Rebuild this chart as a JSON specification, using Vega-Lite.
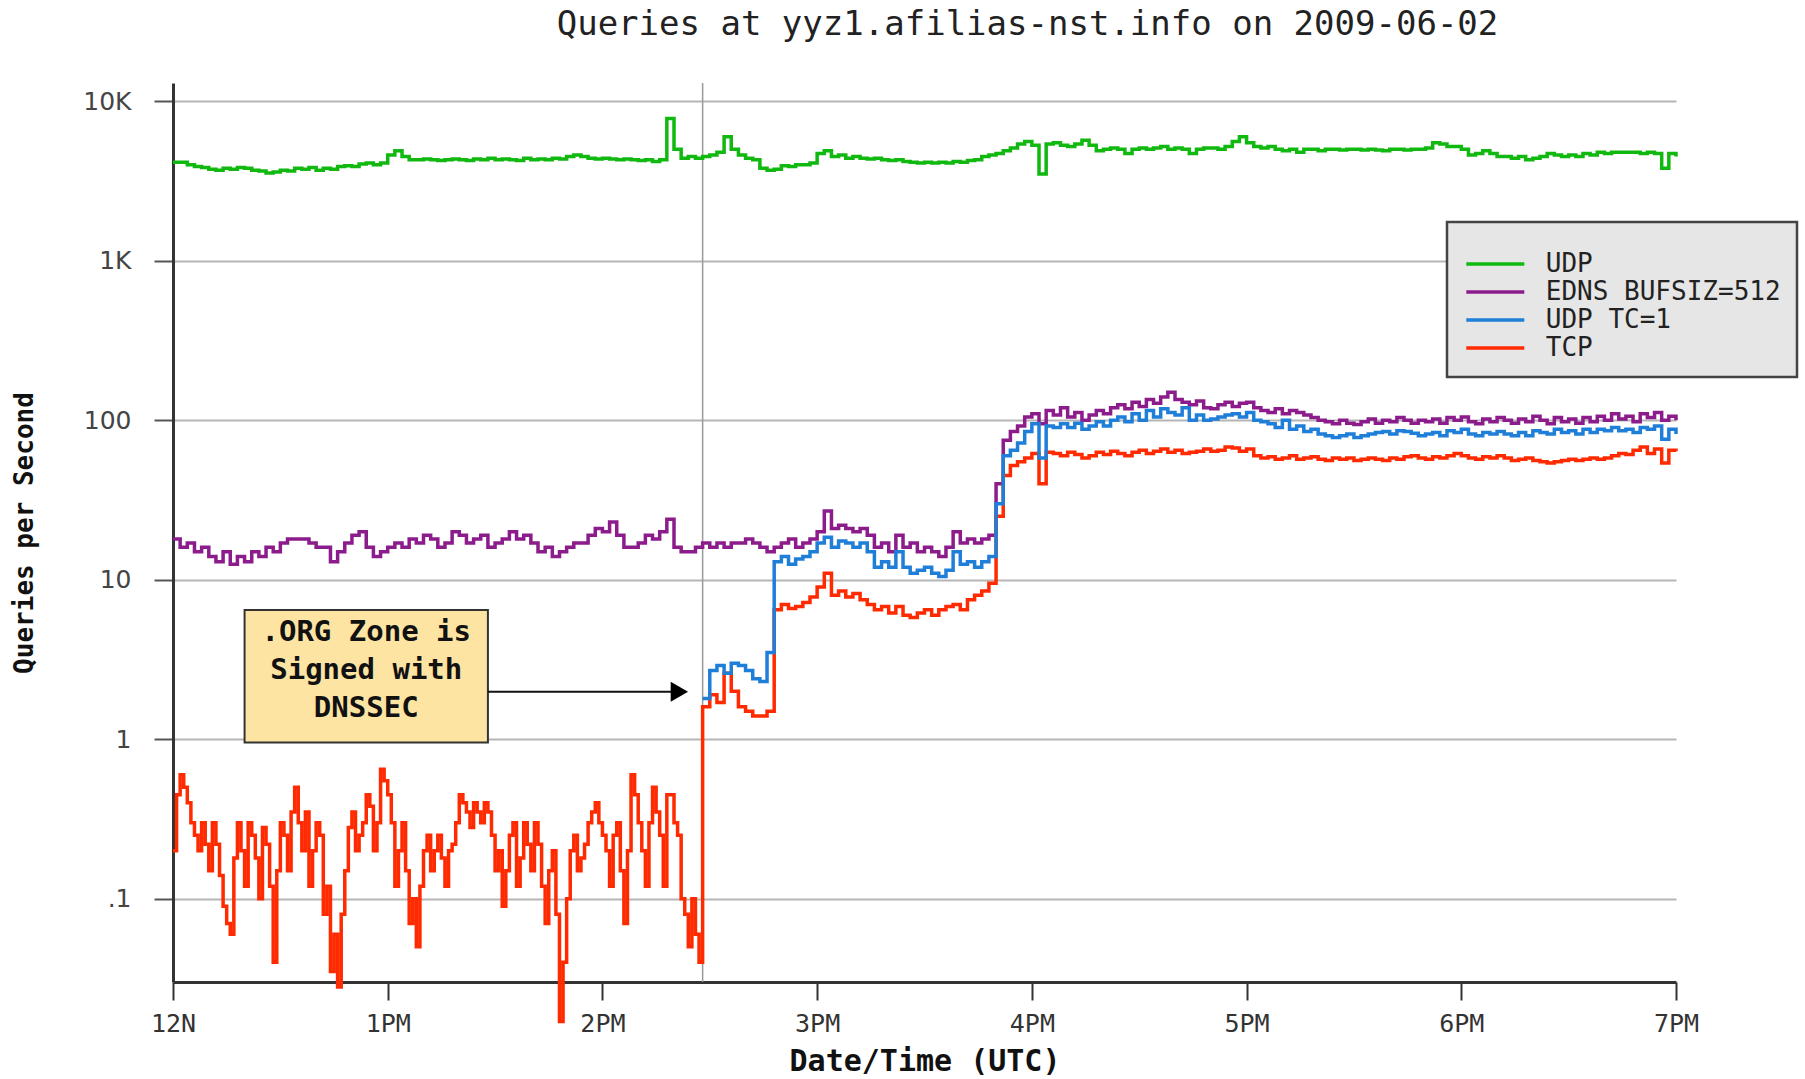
{
"$schema":"https://vega.github.io/schema/vega-lite/v6.json",
"width":1503,"height":899,
"autosize":{"type":"none"},
"padding":{"left":173,"top":83,"right":129,"bottom":97},
"background":"white",
"title":{"text":"Queries at yyz1.afilias-nst.info on 2009-06-02","font":"DejaVu Sans Mono","fontSize":34,"fontWeight":"normal","color":"#222","anchor":"middle","dx":103,"offset":40},
"config":{"view":{"stroke":null},"legend":{"strokeWidth":2.5}},
"layer":[
{"data":{"values":[{"t":"14:28"}],"format":{"parse":{"t":"utc:'%H:%M'"}}},
 "mark":{"type":"rule","color":"#999999","strokeWidth":1.5},
 "encoding":{"x":{"field":"t","type":"temporal","scale":{"type":"utc","domain":[{"year":1900,"month":1,"date":1,"hours":12,"utc":true},{"year":1900,"month":1,"date":1,"hours":19,"utc":true}]}}}},
{"data":{"format":{"parse":{"t":"utc:'%H:%M'"}},"values":[
{"t":"12:00","u":4150,"e":18,"p":0.2},{"t":"12:02","u":4150,"e":16,"p":0.6},{"t":"12:04","u":4000,"e":17,"p":0.4},{"t":"12:06","u":3900,"e":15,"p":0.25},{"t":"12:08","u":3850,"e":16,"p":0.3},{"t":"12:10","u":3750,"e":14,"p":0.15},{"t":"12:12","u":3700,"e":13,"p":0.22},{"t":"12:14","u":3800,"e":15,"p":0.09},{"t":"12:16","u":3750,"e":12.5,"p":0.06},{"t":"12:18","u":3850,"e":14,"p":0.3},
{"t":"12:20","u":3800,"e":13,"p":0.12},{"t":"12:22","u":3700,"e":15,"p":0.25},{"t":"12:24","u":3650,"e":14,"p":0.1},{"t":"12:26","u":3550,"e":16,"p":0.22},{"t":"12:28","u":3600,"e":15,"p":0.04},{"t":"12:30","u":3700,"e":17,"p":0.3},{"t":"12:32","u":3650,"e":18,"p":0.15},{"t":"12:34","u":3800,"e":18,"p":0.5},{"t":"12:36","u":3750,"e":18,"p":0.2},{"t":"12:38","u":3850,"e":17,"p":0.12},
{"t":"12:40","u":3700,"e":16,"p":0.3},{"t":"12:42","u":3800,"e":16,"p":0.08},{"t":"12:44","u":3750,"e":13,"p":0.035},{"t":"12:46","u":3900,"e":15,"p":0.028},{"t":"12:48","u":3950,"e":17,"p":0.15},{"t":"12:50","u":3900,"e":19,"p":0.35},{"t":"12:52","u":4050,"e":20,"p":0.25},{"t":"12:54","u":4100,"e":16,"p":0.45},{"t":"12:56","u":4000,"e":14,"p":0.2},{"t":"12:58","u":4100,"e":15,"p":0.65},
{"t":"13:00","u":4600,"e":16,"p":0.45},{"t":"13:02","u":4900,"e":17,"p":0.12},{"t":"13:04","u":4500,"e":16,"p":0.3},{"t":"13:06","u":4300,"e":18,"p":0.07},{"t":"13:08","u":4300,"e":17,"p":0.05},{"t":"13:10","u":4350,"e":19,"p":0.2},{"t":"13:12","u":4300,"e":18,"p":0.15},{"t":"13:14","u":4250,"e":16,"p":0.25},{"t":"13:16","u":4300,"e":17,"p":0.12},{"t":"13:18","u":4350,"e":20,"p":0.22},
{"t":"13:20","u":4300,"e":19,"p":0.45},{"t":"13:22","u":4250,"e":17,"p":0.35},{"t":"13:24","u":4350,"e":18,"p":0.4},{"t":"13:26","u":4300,"e":19,"p":0.3},{"t":"13:28","u":4400,"e":16,"p":0.35},{"t":"13:30","u":4300,"e":17,"p":0.15},{"t":"13:32","u":4350,"e":18,"p":0.09},{"t":"13:34","u":4300,"e":20,"p":0.25},{"t":"13:36","u":4250,"e":18,"p":0.12},{"t":"13:38","u":4400,"e":19,"p":0.3},
{"t":"13:40","u":4300,"e":17,"p":0.15},{"t":"13:42","u":4350,"e":15,"p":0.22},{"t":"13:44","u":4300,"e":16,"p":0.07},{"t":"13:46","u":4400,"e":14,"p":0.2},{"t":"13:48","u":4350,"e":15,"p":0.017},{"t":"13:50","u":4500,"e":16,"p":0.1},{"t":"13:52","u":4600,"e":17,"p":0.25},{"t":"13:54","u":4500,"e":17,"p":0.18},{"t":"13:56","u":4400,"e":19,"p":0.3},{"t":"13:58","u":4350,"e":21,"p":0.4},
{"t":"14:00","u":4400,"e":20,"p":0.25},{"t":"14:02","u":4350,"e":23,"p":0.12},{"t":"14:04","u":4300,"e":19,"p":0.3},{"t":"14:06","u":4350,"e":16,"p":0.07},{"t":"14:08","u":4300,"e":16,"p":0.6},{"t":"14:10","u":4250,"e":17,"p":0.3},{"t":"14:12","u":4300,"e":19,"p":0.12},{"t":"14:14","u":4200,"e":18,"p":0.5},{"t":"14:16","u":4300,"e":20,"p":0.25},{"t":"14:18","u":7800,"e":24,"p":0.45},
{"t":"14:20","u":5000,"e":16,"p":0.3},{"t":"14:22","u":4400,"e":15,"p":0.1},{"t":"14:24","u":4500,"e":15,"p":0.05},{"t":"14:26","u":4400,"e":16,"p":0.06},
{"t":"12:01","p":0.45},{"t":"12:03","p":0.5},{"t":"12:05","p":0.3},{"t":"12:07","p":0.2},{"t":"12:09","p":0.22},{"t":"12:11","p":0.3},{"t":"12:13","p":0.14},{"t":"12:15","p":0.07},{"t":"12:17","p":0.18},{"t":"12:19","p":0.2},
{"t":"12:21","p":0.3},{"t":"12:23","p":0.18},{"t":"12:25","p":0.28},{"t":"12:27","p":0.12},{"t":"12:29","p":0.15},{"t":"12:31","p":0.25},{"t":"12:33","p":0.35},{"t":"12:35","p":0.3},{"t":"12:37","p":0.35},{"t":"12:39","p":0.2},
{"t":"12:41","p":0.25},{"t":"12:43","p":0.12},{"t":"12:45","p":0.06},{"t":"12:47","p":0.08},{"t":"12:49","p":0.28},{"t":"12:51","p":0.2},{"t":"12:53","p":0.3},{"t":"12:55","p":0.38},{"t":"12:57","p":0.3},{"t":"12:59","p":0.55},
{"t":"13:01","p":0.3},{"t":"13:03","p":0.2},{"t":"13:05","p":0.15},{"t":"13:07","p":0.1},{"t":"13:09","p":0.12},{"t":"13:11","p":0.25},{"t":"13:13","p":0.2},{"t":"13:15","p":0.18},{"t":"13:17","p":0.2},{"t":"13:19","p":0.3},
{"t":"13:21","p":0.4},{"t":"13:23","p":0.28},{"t":"13:25","p":0.35},{"t":"13:27","p":0.4},{"t":"13:29","p":0.25},{"t":"13:31","p":0.2},{"t":"13:33","p":0.15},{"t":"13:35","p":0.3},{"t":"13:37","p":0.18},{"t":"13:39","p":0.22},
{"t":"13:41","p":0.3},{"t":"13:43","p":0.12},{"t":"13:45","p":0.15},{"t":"13:47","p":0.08},{"t":"13:49","p":0.04},{"t":"13:51","p":0.2},{"t":"13:53","p":0.15},{"t":"13:55","p":0.22},{"t":"13:57","p":0.35},{"t":"13:59","p":0.3},
{"t":"14:01","p":0.2},{"t":"14:03","p":0.25},{"t":"14:05","p":0.15},{"t":"14:07","p":0.2},{"t":"14:09","p":0.45},{"t":"14:11","p":0.2},{"t":"14:13","p":0.3},{"t":"14:15","p":0.35},{"t":"14:17","p":0.12},{"t":"14:19","p":0.45},
{"t":"14:21","p":0.25},{"t":"14:23","p":0.08},{"t":"14:25","p":0.1},{"t":"14:27","p":0.04},
{"t":"14:28","u":4500,"e":17,"c":1.8,"p":1.6},{"t":"14:30","u":4600,"e":16,"c":2.7,"p":1.9},{"t":"14:32","u":4800,"e":17,"c":2.9,"p":1.7},{"t":"14:34","u":6000,"e":16,"c":2.6,"p":2.6},{"t":"14:36","u":5000,"e":17,"c":3.0,"p":2.0},{"t":"14:38","u":4600,"e":17,"c":2.9,"p":1.6},{"t":"14:40","u":4400,"e":18,"c":2.7,"p":1.5},{"t":"14:42","u":4300,"e":17,"c":2.4,"p":1.4},{"t":"14:44","u":3800,"e":16,"c":2.3,"p":1.4},{"t":"14:46","u":3700,"e":15,"c":3.5,"p":1.5},
{"t":"14:48","u":3750,"e":16,"c":13,"p":6.5},{"t":"14:50","u":3950,"e":17,"c":14,"p":7.0},{"t":"14:52","u":3900,"e":18,"c":12.5,"p":6.6},{"t":"14:54","u":4000,"e":16,"c":13.5,"p":6.8},{"t":"14:56","u":4000,"e":17,"c":14,"p":7.2},{"t":"14:58","u":4100,"e":18,"c":15,"p":7.8},{"t":"15:00","u":4700,"e":20,"c":17,"p":9.0},{"t":"15:02","u":4900,"e":27,"c":18.5,"p":11},{"t":"15:04","u":4500,"e":21,"c":16,"p":8.0},{"t":"15:06","u":4600,"e":22,"c":17.5,"p":8.5},
{"t":"15:08","u":4400,"e":21,"c":17,"p":7.8},{"t":"15:10","u":4500,"e":20,"c":16,"p":8.2},{"t":"15:12","u":4400,"e":21,"c":17,"p":7.5},{"t":"15:14","u":4350,"e":19,"c":15,"p":7.0},{"t":"15:16","u":4400,"e":16,"c":12,"p":6.5},{"t":"15:18","u":4300,"e":17,"c":13,"p":6.8},{"t":"15:20","u":4250,"e":15,"c":12,"p":6.2},{"t":"15:22","u":4300,"e":19,"c":15,"p":6.8},{"t":"15:24","u":4200,"e":16,"c":12,"p":6.0},{"t":"15:26","u":4150,"e":17,"c":11,"p":5.8},
{"t":"15:28","u":4100,"e":15,"c":11.5,"p":6.2},{"t":"15:30","u":4150,"e":16,"c":12,"p":6.5},{"t":"15:32","u":4100,"e":15,"c":11,"p":6.0},{"t":"15:34","u":4150,"e":14,"c":10.5,"p":6.5},{"t":"15:36","u":4100,"e":16,"c":11.5,"p":6.8},{"t":"15:38","u":4200,"e":20,"c":15,"p":7.0},{"t":"15:40","u":4150,"e":17,"c":12.5,"p":6.5},{"t":"15:42","u":4250,"e":18,"c":13,"p":7.5},{"t":"15:44","u":4300,"e":17,"c":12,"p":8.0},{"t":"15:46","u":4500,"e":18,"c":13,"p":8.5},
{"t":"15:48","u":4600,"e":19,"c":14,"p":9.5},{"t":"15:50","u":4700,"e":40,"c":30,"p":25},{"t":"15:52","u":4900,"e":75,"c":60,"p":45},{"t":"15:54","u":5100,"e":85,"c":65,"p":52},{"t":"15:56","u":5400,"e":92,"c":72,"p":55},{"t":"15:58","u":5600,"e":105,"c":85,"p":58},{"t":"16:00","u":5300,"e":110,"c":95,"p":62},{"t":"16:02","u":3500,"e":95,"c":58,"p":40},{"t":"16:04","u":5400,"e":115,"c":92,"p":63},{"t":"16:06","u":5500,"e":108,"c":90,"p":62},
{"t":"16:08","u":5300,"e":120,"c":95,"p":60},{"t":"16:10","u":5200,"e":105,"c":90,"p":63},{"t":"16:12","u":5400,"e":112,"c":96,"p":61},{"t":"16:14","u":5700,"e":100,"c":88,"p":58},{"t":"16:16","u":5300,"e":108,"c":92,"p":60},{"t":"16:18","u":4900,"e":115,"c":98,"p":63},{"t":"16:20","u":5000,"e":110,"c":92,"p":61},{"t":"16:22","u":5100,"e":120,"c":100,"p":64},{"t":"16:24","u":5000,"e":125,"c":105,"p":62},{"t":"16:26","u":4700,"e":118,"c":98,"p":60},
{"t":"16:28","u":5000,"e":130,"c":110,"p":63},{"t":"16:30","u":5100,"e":122,"c":100,"p":65},{"t":"16:32","u":5000,"e":135,"c":115,"p":62},{"t":"16:34","u":5100,"e":128,"c":105,"p":64},{"t":"16:36","u":5200,"e":140,"c":118,"p":66},{"t":"16:38","u":5000,"e":150,"c":112,"p":63},{"t":"16:40","u":5100,"e":135,"c":108,"p":65},{"t":"16:42","u":5000,"e":130,"c":120,"p":62},{"t":"16:44","u":4700,"e":125,"c":100,"p":63},{"t":"16:46","u":5000,"e":132,"c":108,"p":64},
{"t":"16:48","u":5100,"e":120,"c":100,"p":66},{"t":"16:50","u":5100,"e":118,"c":102,"p":64},{"t":"16:52","u":5000,"e":125,"c":105,"p":65},{"t":"16:54","u":5200,"e":130,"c":108,"p":68},{"t":"16:56","u":5600,"e":122,"c":110,"p":67},{"t":"16:58","u":6000,"e":128,"c":105,"p":64},{"t":"17:00","u":5500,"e":130,"c":112,"p":66},{"t":"17:02","u":5200,"e":120,"c":100,"p":60},{"t":"17:04","u":5100,"e":115,"c":98,"p":58},{"t":"17:06","u":5200,"e":112,"c":95,"p":59},
{"t":"17:08","u":5000,"e":118,"c":90,"p":57},{"t":"17:10","u":4900,"e":110,"c":100,"p":58},{"t":"17:12","u":5000,"e":115,"c":88,"p":60},{"t":"17:14","u":4800,"e":112,"c":92,"p":57},{"t":"17:16","u":5000,"e":108,"c":85,"p":58},{"t":"17:18","u":5000,"e":104,"c":88,"p":59},{"t":"17:20","u":4900,"e":100,"c":82,"p":57},{"t":"17:22","u":5000,"e":98,"c":80,"p":56},{"t":"17:24","u":5000,"e":95,"c":78,"p":58},{"t":"17:26","u":4950,"e":100,"c":80,"p":57},
{"t":"17:28","u":5000,"e":96,"c":82,"p":58},{"t":"17:30","u":5000,"e":94,"c":78,"p":56},{"t":"17:32","u":4950,"e":98,"c":80,"p":57},{"t":"17:34","u":5000,"e":102,"c":82,"p":58},{"t":"17:36","u":4950,"e":96,"c":84,"p":57},{"t":"17:38","u":4900,"e":100,"c":85,"p":56},{"t":"17:40","u":5000,"e":98,"c":82,"p":58},{"t":"17:42","u":5000,"e":104,"c":86,"p":57},{"t":"17:44","u":4950,"e":100,"c":85,"p":59},{"t":"17:46","u":5000,"e":96,"c":83,"p":60},
{"t":"17:48","u":5000,"e":100,"c":80,"p":58},{"t":"17:50","u":5100,"e":98,"c":82,"p":57},{"t":"17:52","u":5500,"e":102,"c":84,"p":59},{"t":"17:54","u":5400,"e":96,"c":80,"p":58},{"t":"17:56","u":5200,"e":104,"c":86,"p":60},{"t":"17:58","u":5200,"e":100,"c":84,"p":62},{"t":"18:00","u":5000,"e":105,"c":88,"p":60},{"t":"18:02","u":4600,"e":98,"c":82,"p":58},{"t":"18:04","u":4700,"e":95,"c":80,"p":57},{"t":"18:06","u":4900,"e":102,"c":84,"p":59},
{"t":"18:08","u":4700,"e":98,"c":82,"p":58},{"t":"18:10","u":4500,"e":104,"c":85,"p":60},{"t":"18:12","u":4500,"e":100,"c":82,"p":58},{"t":"18:14","u":4400,"e":96,"c":80,"p":56},{"t":"18:16","u":4500,"e":102,"c":84,"p":57},{"t":"18:18","u":4300,"e":98,"c":80,"p":58},{"t":"18:20","u":4400,"e":106,"c":86,"p":56},{"t":"18:22","u":4500,"e":100,"c":84,"p":55},{"t":"18:24","u":4700,"e":95,"c":82,"p":54},{"t":"18:26","u":4600,"e":104,"c":88,"p":55},
{"t":"18:28","u":4500,"e":98,"c":84,"p":56},{"t":"18:30","u":4600,"e":102,"c":86,"p":57},{"t":"18:32","u":4500,"e":96,"c":82,"p":56},{"t":"18:34","u":4700,"e":104,"c":88,"p":57},{"t":"18:36","u":4600,"e":98,"c":84,"p":58},{"t":"18:38","u":4800,"e":106,"c":88,"p":57},{"t":"18:40","u":4700,"e":100,"c":86,"p":58},{"t":"18:42","u":4800,"e":110,"c":90,"p":60},{"t":"18:44","u":4800,"e":102,"c":86,"p":62},{"t":"18:46","u":4800,"e":106,"c":88,"p":61},
{"t":"18:48","u":4800,"e":98,"c":84,"p":65},{"t":"18:50","u":4700,"e":110,"c":90,"p":68},{"t":"18:52","u":4800,"e":104,"c":88,"p":62},{"t":"18:54","u":4700,"e":112,"c":92,"p":66},{"t":"18:56","u":3800,"e":100,"c":76,"p":54},{"t":"18:58","u":4700,"e":106,"c":88,"p":65},{"t":"19:00","u":4500,"e":100,"c":82,"p":64}
]},
 "transform":[{"fold":["u","e","c","p"],"as":["k","v"]},{"filter":"isValid(datum.v)"}],
 "mark":{"type":"line","interpolate":"step-after","strokeWidth":3.5},
 "encoding":{
  "x":{"field":"t","type":"temporal","scale":{"type":"utc","domain":[{"year":1900,"month":1,"date":1,"hours":12,"utc":true},{"year":1900,"month":1,"date":1,"hours":19,"utc":true}]},
   "axis":{"title":"Date/Time (UTC)","titleFont":"DejaVu Sans Mono","titleFontWeight":"bold","titleFontSize":30,"titleColor":"#111","titlePadding":10,
    "values":[{"year":1900,"month":1,"date":1,"hours":12,"utc":true},{"year":1900,"month":1,"date":1,"hours":13,"utc":true},{"year":1900,"month":1,"date":1,"hours":14,"utc":true},{"year":1900,"month":1,"date":1,"hours":15,"utc":true},{"year":1900,"month":1,"date":1,"hours":16,"utc":true},{"year":1900,"month":1,"date":1,"hours":17,"utc":true},{"year":1900,"month":1,"date":1,"hours":18,"utc":true},{"year":1900,"month":1,"date":1,"hours":19,"utc":true}],
    "labelExpr":"utchours(datum.value)==12?'12N':(utchours(datum.value)-12)+'PM'",
    "labelFont":"DejaVu Sans Mono","labelFontSize":25,"labelColor":"#333","labelPadding":11,"labelFlush":false,"labelOverlap":false,
    "tickSize":18,"tickColor":"#333","tickWidth":2,"domainColor":"#333","domainWidth":3,"grid":false}},
  "y":{"field":"v","type":"quantitative","scale":{"type":"log","domain":[0.0301,13020],"nice":false},
   "axis":{"title":"Queries per Second","titleFont":"DejaVu Sans Mono","titleFontWeight":"bold","titleFontSize":26,"titleColor":"#111","titlePadding":45,
    "values":[0.1,1,10,100,1000,10000],
    "labelExpr":"datum.value>=10000?'10K':datum.value>=1000?'1K':datum.value<0.5?'.1':format(datum.value,'d')",
    "labelFont":"DejaVu Sans","labelFontSize":25,"labelColor":"#444","labelPadding":23,
    "tickSize":19,"tickColor":"#555","tickWidth":2,"domainColor":"#333","domainWidth":3,"grid":true,"gridColor":"#b5b5b5","gridWidth":2}},
  "color":{"field":"k","type":"nominal","scale":{"domain":["u","e","c","p"],"range":["#10b810","#8c1c8c","#1f7fd8","#ff2a00"]},
   "legend":{"orient":"none","legendX":1274,"legendY":139,"title":" ","titleFontSize":10,"titlePadding":3,"symbolType":"M-3,0H3","symbolSize":374,"symbolStrokeWidth":3.5,"symbolOffset":19.3,
    "labelExpr":"datum.label=='u'?'UDP':datum.label=='e'?'EDNS BUFSIZ=512':datum.label=='c'?'UDP TC=1':'TCP'",
    "labelFont":"DejaVu Sans Mono","labelFontSize":26,"labelColor":"#222","labelOffset":37.5,"labelLimit":500,"rowPadding":2,"padding":16,"fillColor":"#e6e6e6","strokeColor":"#444"}}
 }},
{"data":{"values":[{"t":"12:20","t2":"13:28","v":6.47,"v2":0.956}],"format":{"parse":{"t":"utc:'%H:%M'","t2":"utc:'%H:%M'"}}},
 "mark":{"type":"rect","fill":"#fde4a3","stroke":"#333","strokeWidth":2},
 "encoding":{"x":{"field":"t","type":"temporal","scale":{"type":"utc","domain":[{"year":1900,"month":1,"date":1,"hours":12,"utc":true},{"year":1900,"month":1,"date":1,"hours":19,"utc":true}]}},"x2":{"field":"t2"},
  "y":{"field":"v","type":"quantitative","scale":{"type":"log","domain":[0.0301,13020],"nice":false}},"y2":{"field":"v2"}}},
{"data":{"values":[{"t":"13:28:00","t2":"14:21:30","v":1.99}],"format":{"parse":{"t":"utc:'%H:%M:%S'","t2":"utc:'%H:%M:%S'"}}},
 "mark":{"type":"rule","color":"#111","strokeWidth":2},
 "encoding":{"x":{"field":"t","type":"temporal","scale":{"type":"utc","domain":[{"year":1900,"month":1,"date":1,"hours":12,"utc":true},{"year":1900,"month":1,"date":1,"hours":19,"utc":true}]}},"x2":{"field":"t2"},
  "y":{"field":"v","type":"quantitative","scale":{"type":"log","domain":[0.0301,13020],"nice":false}}}},
{"data":{"values":[{"t":"14:21:30","v":1.99}],"format":{"parse":{"t":"utc:'%H:%M:%S'"}}},
 "mark":{"type":"point","shape":"triangle-right","filled":true,"color":"#000","opacity":1,"size":400},
 "encoding":{"x":{"field":"t","type":"temporal","scale":{"type":"utc","domain":[{"year":1900,"month":1,"date":1,"hours":12,"utc":true},{"year":1900,"month":1,"date":1,"hours":19,"utc":true}]}},
  "y":{"field":"v","type":"quantitative","scale":{"type":"log","domain":[0.0301,13020],"nice":false}}}},
{"data":{"values":[{"t":"12:54","v":4.71,"s":".ORG Zone is"},{"t":"12:54","v":2.72,"s":"Signed with"},{"t":"12:54","v":1.57,"s":"DNSSEC"}],"format":{"parse":{"t":"utc:'%H:%M'"}}},
 "mark":{"type":"text","font":"DejaVu Sans Mono","fontWeight":"bold","fontSize":29,"color":"#111","align":"center","baseline":"middle"},
 "encoding":{"x":{"field":"t","type":"temporal","scale":{"type":"utc","domain":[{"year":1900,"month":1,"date":1,"hours":12,"utc":true},{"year":1900,"month":1,"date":1,"hours":19,"utc":true}]}},
  "y":{"field":"v","type":"quantitative","scale":{"type":"log","domain":[0.0301,13020],"nice":false}},"text":{"field":"s"}}}
]
}
